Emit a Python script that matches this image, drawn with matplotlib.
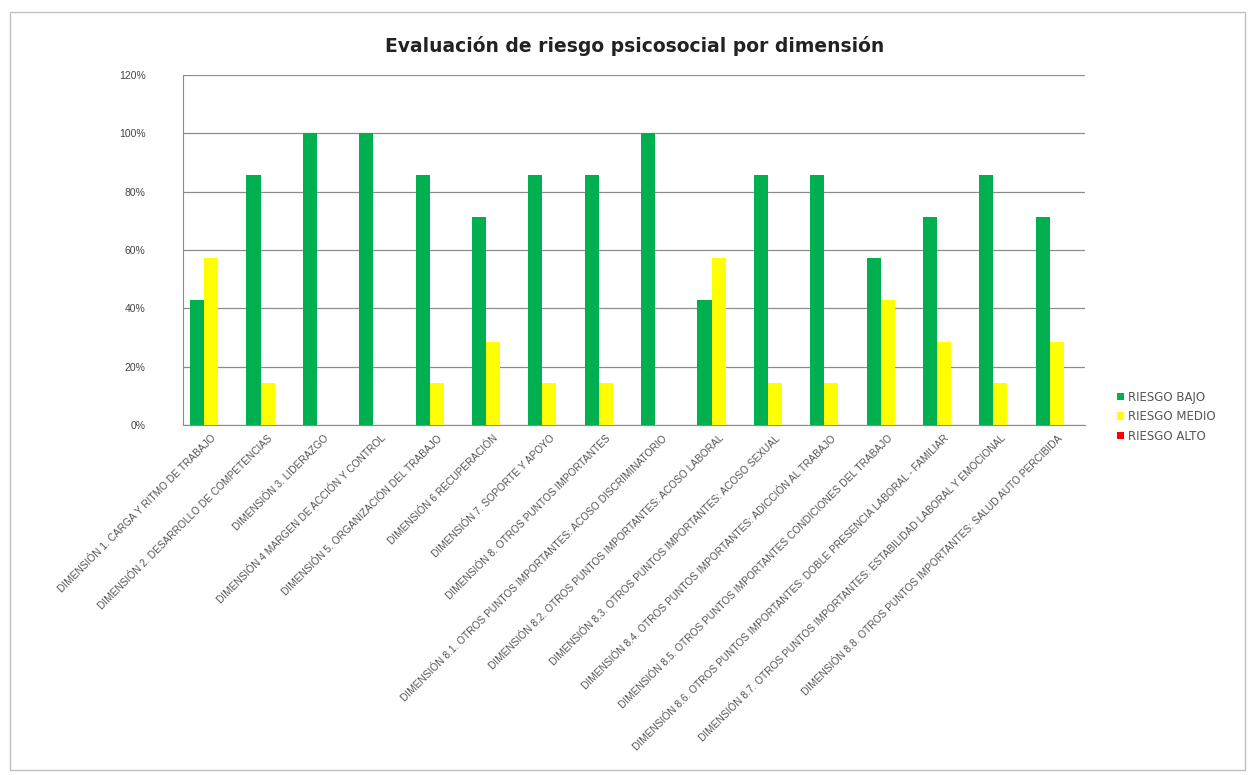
import matplotlib
matplotlib.use("Agg")
import matplotlib.pyplot as plt
import numpy as np
from matplotlib.patches import Rectangle

categories = [
    "DIMENSIÓN 1. CARGA Y RITMO DE TRABAJO",
    "DIMENSIÓN 2. DESARROLLO DE COMPETENCIAS",
    "DIMENSIÓN 3. LIDERAZGO",
    "DIMENSIÓN 4 MARGEN DE ACCIÓN Y CONTROL",
    "DIMENSIÓN 5. ORGANIZACIÓN DEL TRABAJO",
    "DIMENSIÓN 6 RECUPERACIÓN",
    "DIMENSIÓN 7. SOPORTE Y APOYO",
    "DIMENSIÓN 8. OTROS PUNTOS IMPORTANTES",
    "DIMENSIÓN 8.1. OTROS PUNTOS IMPORTANTES: ACOSO DISCRIMINATORIO",
    "DIMENSIÓN 8.2. OTROS PUNTOS IMPORTANTES: ACOSO LABORAL",
    "DIMENSIÓN 8.3. OTROS PUNTOS IMPORTANTES: ACOSO SEXUAL",
    "DIMENSIÓN 8.4. OTROS PUNTOS IMPORTANTES: ADICCIÓN AL TRABAJO",
    "DIMENSIÓN 8.5. OTROS PUNTOS IMPORTANTES CONDICIONES DEL TRABAJO",
    "DIMENSIÓN 8.6. OTROS PUNTOS IMPORTANTES: DOBLE PRESENCIA LABORAL - FAMILIAR",
    "DIMENSIÓN 8.7. OTROS PUNTOS IMPORTANTES: ESTABILIDAD LABORAL Y EMOCIONAL",
    "DIMENSIÓN 8.8. OTROS PUNTOS IMPORTANTES: SALUD AUTO PERCIBIDA",
]
riesgo_bajo = [42.86, 85.71, 100, 100, 85.71, 71.43, 85.71, 85.71, 100, 42.86, 85.71, 85.71, 57.14, 71.43, 85.71, 71.43]
riesgo_medio = [57.14, 14.29, 0, 0, 14.29, 28.57, 14.29, 14.29, 0, 57.14, 14.29, 14.29, 42.86, 28.57, 14.29, 28.57]
riesgo_alto = [0] * 16
series_names = ["RIESGO BAJO", "RIESGO MEDIO", "RIESGO ALTO"]
series_colors = ["#00B050", "#FFFF00", "#FF0000"]
yticks = [0, 20, 40, 60, 80, 100, 120]

plt.rcParams['font.family'] = ['Liberation Sans', 'DejaVu Sans']

fig = plt.figure(figsize=(12.52, 7.75), dpi=100)
W, H = 1252, 775
ax = fig.add_axes([183 / W, 1 - 425 / H, (1085 - 183) / W, (425 - 75) / H])

x = np.arange(len(categories))
w = 0.25
for i, (vals, name, col) in enumerate(zip([riesgo_bajo, riesgo_medio, riesgo_alto], series_names, series_colors)):
    ax.bar(x + (i - 1) * w, vals, width=w, color=col, label=name, zorder=3)

ax.set_xlim(-0.5, len(categories) - 0.5)
ax.set_ylim(0, 120)
ax.set_yticks(yticks)
ax.set_yticklabels([f"{v}%" for v in yticks], fontsize=7.5, color="#444444")
ax.yaxis.grid(True, color="#8c8c8c", linewidth=0.9, zorder=0)
ax.set_xticks(x)
ax.set_xticklabels(categories, rotation=45, ha="right", rotation_mode="anchor",
                   fontsize=7.3, color="#555555")
ax.tick_params(axis="x", length=0, pad=6)
ax.tick_params(axis="y", length=0, pad=27)
for s in ["top", "right"]:
    ax.spines[s].set_visible(False)
ax.spines["left"].set_color("#8c8c8c")
ax.spines["bottom"].set_color("#8c8c8c")

fig.text(635 / W, 1 - 46 / H, "Evaluación de riesgo psicosocial por dimensión",
         ha="center", va="center", fontsize=13.5, fontweight="bold", color="#222222",
         family=["DejaVu Sans"])

leg = fig.legend(loc="upper left", bbox_to_anchor=(1106 / W, 1 - 380 / H), frameon=False,
                 prop={"family": "DejaVu Sans", "size": 8.5},
                 handlelength=0.6, handleheight=0.6, handletextpad=0.4,
                 labelspacing=0.55)
for t in leg.get_texts():
    t.set_color("#555555")

fig.patches.append(Rectangle((10 / W, 1 - 770 / H), (1245 - 10) / W, (770 - 12) / H,
                             transform=fig.transFigure, fill=False, edgecolor="#bfbfbf",
                             linewidth=1))

fig.savefig("out.png", dpi=100, facecolor="white")
